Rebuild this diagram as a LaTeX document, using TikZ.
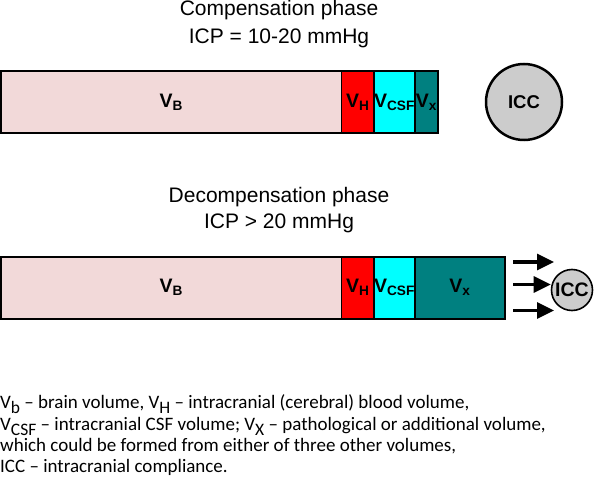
\documentclass[tikz,border=0pt]{standalone}
\usepackage{fontspec}
\setmainfont{Liberation Sans}
\newfontfamily\legendfont{Carlito}
\usetikzlibrary{arrows.meta, calc, positioning}
\definecolor{brain}{RGB}{242,217,217}
\definecolor{blood}{RGB}{255,0,0}
\definecolor{csf}{RGB}{0,255,255}
\definecolor{extra}{RGB}{0,128,128}
\definecolor{iccgray}{RGB}{204,204,204}
\newcommand{\vsub}[1]{V\textsubscript{#1}}
\newcommand{\lsub}[1]{\raisebox{-0.28em}[0pt][0pt]{\fontsize{17.5}{17.5}\selectfont #1}}
\tikzset{
	cell/.style = {draw, line width=1.3pt, outer sep=0pt, inner sep=0pt, minimum height=62pt,
		font=\fontsize{19.5}{20}\selectfont\bfseries},
	frame/.style = {line width=2pt},
	title/.style = {anchor=base, inner sep=0pt, font=\fontsize{21}{24}\selectfont},
	icc/.style = {draw, circle, fill=iccgray, inner sep=0pt, font=\fontsize{18.5}{20}\selectfont\bfseries},
	push/.style = {line width=3.2pt, -{Triangle[length=17pt, width=16pt]}},
	legend/.style = {anchor=base west, inner sep=0pt, font=\legendfont\fontsize{19}{21}\selectfont}
}
\begin{document}
\begin{tikzpicture}[x=1pt, y=-1pt]
	\useasboundingbox (0,0) rectangle (596,486);
	\node[title] (phase1) at (279,16) {Compensation phase};
	\node[title] (icp1) at (279,43.3) {ICP = 10-20 mmHg};
	\node[cell, fill=brain, minimum width=340.5pt, anchor=north west] (vb1) at (1,71.5) {\vsub{B}};
	\node[cell, fill=blood, minimum width=32.5pt, right=0pt of vb1] (vh1) {\vsub{H}};
	\node[cell, fill=csf, minimum width=41pt, right=0pt of vh1] (vcsf1) {\vsub{CSF}};
	\node[cell, fill=extra, minimum width=23pt, right=0pt of vcsf1] (vx1) {\vsub{x}};
	\draw[frame] (vb1.north west) rectangle (vx1.south east);
	\node[icc, line width=2.5pt, minimum size=76pt] (icc1) at (524,102) {ICC};

	\node[title] (phase2) at (279,202.7) {Decompensation phase};
	\node[title] (icp2) at (279,228.3) {ICP > 20 mmHg};
	\node[cell, fill=brain, minimum width=340.5pt, anchor=north west] (vb2) at (1,256.5) {\vsub{B}};
	\node[cell, fill=blood, minimum width=32.5pt, right=0pt of vb2] (vh2) {\vsub{H}};
	\node[cell, fill=csf, minimum width=41pt, right=0pt of vh2] (vcsf2) {\vsub{CSF}};
	\node[cell, fill=extra, minimum width=90pt, right=0pt of vcsf2] (vx2) {\vsub{x}};
	\draw[frame] (vb2.north west) rectangle (vx2.south east);
	\node[icc, line width=1.6pt, minimum size=41pt, font=\fontsize{19.5}{20}\selectfont\bfseries] (icc2) at (572,290) {ICC};
	\draw[push] ($(vx2.north east)+(8,5.5)$) -- +(41,0);
	\draw[push] ($(vx2.east)+(8,-3)$) -- (icc2.west |- 0,284.5);
	\draw[push] ($(vx2.south east)+(8,-8)$) -- +(41,0);

	\node[legend] (key1) at (0,408) {V\lsub{b} – brain volume, V\lsub{H} – intracranial (cerebral) blood volume,};
	\node[legend] (key2) at (0,430) {V\lsub{CSF} – intracranial CSF volume; V\lsub{X} – pathological or additional volume,};
	\node[legend] (key3) at (0,451) {which could be formed from either of three other volumes,};
	\node[legend] (key4) at (0,472.5) {ICC – intracranial compliance.};
\end{tikzpicture}
\end{document}
